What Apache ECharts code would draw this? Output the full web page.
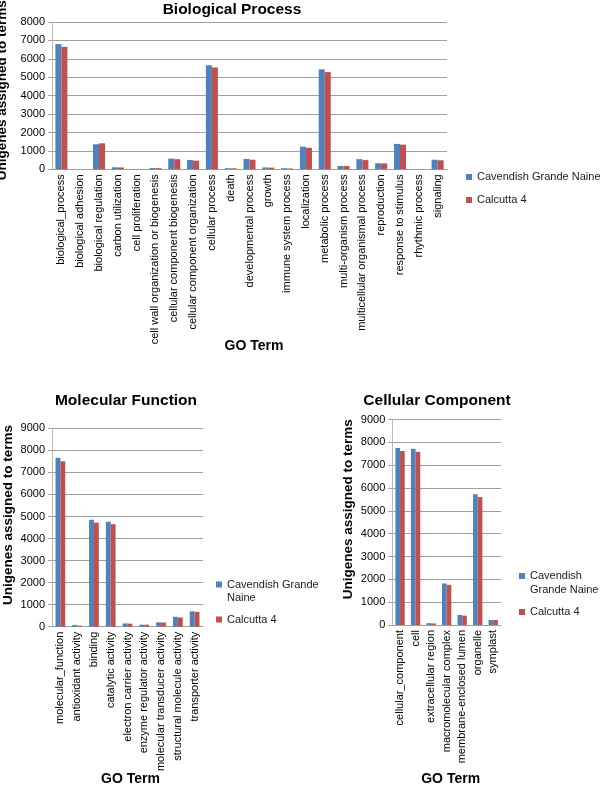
<!DOCTYPE html>
<html><head><meta charset="utf-8">
<script src="https://cdn.jsdelivr.net/npm/echarts@6/dist/echarts.min.js"></script>
<style>html,body{margin:0;padding:0;background:#fff}#c{width:600px;height:787px}</style>
</head><body><div id="c"></div>
<script>
const seriesNames = ['Cavendish Grande Naine', 'Calcutta 4'];

const bpCategories = ['biological_process','biological adhesion','biological regulation','carbon utilization','cell proliferation','cell wall organization or biogenesis','cellular component biogenesis','cellular component organization','cellular process','death','developmental process','growth','immune system process','localization','metabolic process','multi-organism process','multicellular organismal process','reproduction','response to stimulus','rhythmic process','signaling'];
const bpCavendish = [6800, 5, 1360, 110, 5, 70, 580, 510, 5650, 60, 560, 100, 60, 1230, 5430, 180, 550, 330, 1380, 5, 520];
const bpCalcutta  = [6650, 5, 1410, 100, 5, 65, 550, 470, 5530, 55, 520, 90, 45, 1170, 5280, 175, 500, 320, 1340, 5, 490];

const mfCategories = ['molecular_function','antioxidant activity','binding','catalytic activity','electron carrier activity','enzyme regulator activity','molecular transducer activity','structural molecule activity','transporter activity'];
const mfCavendish = [7660, 80, 4850, 4760, 150, 90, 200, 450, 700];
const mfCalcutta  = [7500, 50, 4720, 4650, 140, 90, 190, 420, 670];

const ccCategories = ['cellular_component','cell','extracellular region','macromolecular complex','membrane-enclosed lumen','organelle','symplast'];
const ccCavendish = [7750, 7720, 80, 1820, 440, 5730, 220];
const ccCalcutta  = [7620, 7590, 70, 1760, 410, 5600, 220];

const yMaxes = [8000, 9000, 9000];
const yInterval = 1000;
const chartTitles = ['Biological Process', 'Molecular Function', 'Cellular Component'];
const xName = 'GO Term';
const yName = 'Unigenes assigned to terms';
const mfLegendText = ['Cavendish Grande\nNaine', 'Calcutta 4'];
const ccLegendText = ['Cavendish\nGrande Naine', 'Calcutta 4'];

const FONT = '"Liberation Sans", Arial, Helvetica, sans-serif';
const BLUE = '#4F81BD', RED = '#C0504D';
const GRIDC = '#a0a0a0';

const chart = echarts.init(document.getElementById('c'), null, {renderer: 'canvas'});

function xAxis(i, cats, gap, padLeft) {
  return {
    type: 'category', gridIndex: i, data: cats,
    name: xName, nameLocation: 'middle', nameGap: gap, nameMoveOverlap: false,
    nameTextStyle: {fontFamily: FONT, fontSize: 14, fontWeight: 'bold', color: '#000', padding: [0, 0, 0, padLeft]},
    axisLine: {show: true, lineStyle: {color: GRIDC, width: 1}},
    axisTick: {show: false},
    axisLabel: {interval: 0, rotate: 90, margin: 5, fontFamily: FONT, fontSize: 11, color: '#000'},
    splitLine: {show: false}
  };
}
function yAxis(i, max, pad) {
  return {
    type: 'value', gridIndex: i, min: 0, max: max, interval: yInterval,
    name: yName, nameLocation: 'middle', nameGap: 37,
    nameTextStyle: {fontFamily: FONT, fontSize: 13.5, fontWeight: 'bold', color: '#000', padding: [0, 0, 0, pad]},
    axisLine: {show: true, lineStyle: {color: '#b8b8b8', width: 1}},
    axisTick: {show: true, length: 4, lineStyle: {color: GRIDC}},
    axisLabel: {margin: 7, fontFamily: FONT, fontSize: 11, color: '#000', formatter: v => String(v)},
    splitLine: {show: true, lineStyle: {color: GRIDC, width: 1}}
  };
}
function bars(i, name, data, color, gap) {
  return {
    type: 'bar', name: name, xAxisIndex: i, yAxisIndex: i, data: data,
    barGap: '0%', barCategoryGap: gap,
    itemStyle: {color: color}, animation: false
  };
}
// icon drawn at the first text line of a (possibly two-line) legend entry
function squareIcon(h, top) {
  return 'path://M0,0 M0,' + h + ' M0,' + top + 'h6v6h-6z';
}
function legend(left, top, gap, lh, h, texts, firstTop, secondTop) {
  return {
    orient: 'vertical', left: left, top: top, itemGap: gap, padding: 0,
    itemWidth: 6, itemHeight: h,
    data: [
      {name: seriesNames[0], icon: squareIcon(h, firstTop)},
      {name: seriesNames[1], icon: squareIcon(h, secondTop)}
    ],
    formatter: n => texts[seriesNames.indexOf(n)],
    textStyle: {fontFamily: FONT, fontSize: 11, color: '#1a1a1a', lineHeight: lh}
  };
}
const titleStyle = {fontFamily: FONT, fontSize: 15.5, fontWeight: 'bold', color: '#000'};

const option = {
  animation: false,
  backgroundColor: '#fff',
  title: [
    {text: chartTitles[0], left: 232, top: 1.5, padding: 0, textAlign: 'center', textStyle: titleStyle},
    {text: chartTitles[1], left: 126, top: 393, padding: 0, textAlign: 'center', textStyle: titleStyle},
    {text: chartTitles[2], left: 437, top: 393, padding: 0, textAlign: 'center', textStyle: titleStyle}
  ],
  legend: [
    legend(466, 171, 11, 12, 12, seriesNames, 3, 3),
    legend(216, 578, 2.5, 13, 26, mfLegendText, 3.5, 10),
    legend(519, 569, 1, 14, 28, ccLegendText, 4, 11)
  ],
  grid: [
    {left: 52, top: 22, width: 395, height: 147.3, outerBoundsMode: 'none', containLabel: false},
    {left: 52, top: 428.3, width: 151, height: 198.4, outerBoundsMode: 'none', containLabel: false},
    {left: 392.3, top: 419.5, width: 108.7, height: 205.5, outerBoundsMode: 'none', containLabel: false}
  ],
  xAxis: [xAxis(0, bpCategories, 170, 9), xAxis(1, mfCategories, 145.6, 6), xAxis(2, ccCategories, 147, 8)],
  yAxis: [yAxis(0, yMaxes[0], 11), yAxis(1, yMaxes[1], 25), yAxis(2, yMaxes[2], 26)],
  series: [
    bars(0, seriesNames[0], bpCavendish, BLUE, '36%'),
    bars(0, seriesNames[1], bpCalcutta, RED, '36%'),
    bars(1, seriesNames[0], mfCavendish, BLUE, '42%'),
    bars(1, seriesNames[1], mfCalcutta, RED, '42%'),
    bars(2, seriesNames[0], ccCavendish, BLUE, '40%'),
    bars(2, seriesNames[1], ccCalcutta, RED, '40%')
  ]
};
chart.setOption(option);
</script></body></html>
